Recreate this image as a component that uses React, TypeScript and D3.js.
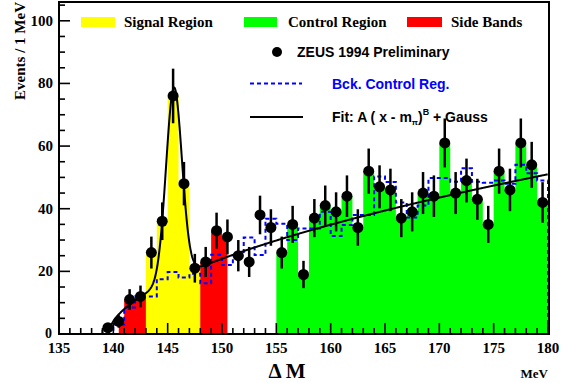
import React from "react";
import * as d3 from "d3";

const WIDTH = 565;
const HEIGHT = 383;

// Delta M spectrum, 1 MeV bins; first bin starts at 139 MeV
const binStart = 139;
const counts = [
  2, 4, 11, 12, 26, 36, 76, 48, 21, 23, 33, 31, 25, 23, 38, 34, 26, 35, 19, 37, 41,
  39, 44, 34, 52, 47, 46, 37, 39, 45, 44, 61, 45, 49, 43, 35, 52, 46, 61, 54, 42,
];

// Background from the control region, same binning
const bckStart = 139;
const bckControl = [
  1, 3, 8.5, 12, 12, 17.5, 19.8, 18, 19.2, 16.2, 25.3, 22, 25, 30.8, 25.2, 36.8, 35.2,
  30, 33.7, 33.7, 39, 31.3, 34.8, 38, 38, 50.3, 48.5, 42, 37.2, 41, 49.8, 49.8, 48.6,
  52.9, 48.6, 48.3, 49, 48, 54, 51.3, 49,
];

// Shaded mass windows (MeV)
const regionNames = ["Side Bands", "Signal Region", "Side Bands", "Control Region"];
const regionFrom = [140.5, 143, 148, 155];
const regionTo = [143, 148, 150.5, 180];
const regionColors = ["#ff0000", "#ffff00", "#ff0000", "#00ff00"];

// Fit: A (x - m_pi)^B + Gauss
const fitA = 6.52;
const fitB = 0.556;
const mPi = 139.57;
const gaussAmp = 61;
const gaussMean = 145.58;
const gaussSigma = 0.73;

const xTickLabels = ["135", "140", "145", "150", "155", "160", "165", "170", "175", "180"];
const yTickLabels = ["0", "20", "40", "60", "80", "100"];

const SERIF = "'Liberation Serif', 'Times New Roman', serif";
const SANS = "'Liberation Sans', Arial, Helvetica, sans-serif";

function fitFn(x: number) {
  const bg = x > mPi ? fitA * Math.pow(x - mPi, fitB) : 0;
  const g = gaussAmp * Math.exp(-((x - gaussMean) ** 2) / (2 * gaussSigma ** 2));
  return bg + g;
}

export default function App() {
  const x = d3.scaleLinear().domain([135, 180]).range([59, 548]);
  const y = d3.scaleLinear().domain([0, 106]).range([334, 2]);

  // Filled region areas, clipped to each window
  const areaGen = d3
    .area<{ e: number; v: number }>()
    .x((d) => x(d.e))
    .y0(y(0))
    .y1((d) => y(d.v))
    .curve(d3.curveStepAfter);

  const regionPaths = regionFrom.map((from, ri) => {
    const to = regionTo[ri];
    const pts: { e: number; v: number }[] = [];
    counts.forEach((c, i) => {
      const lo = binStart + i;
      const hi = lo + 1;
      const a = Math.max(lo, from);
      const b = Math.min(hi, to);
      if (b > a) pts.push({ e: a, v: c });
    });
    if (pts.length) pts.push({ e: to, v: pts[pts.length - 1].v });
    return areaGen(pts) || "";
  });

  // Background step histogram
  const stepPts: [number, number][] = [[bckStart, 0]];
  bckControl.forEach((v, i) => stepPts.push([bckStart + i, v]));
  stepPts.push([bckStart + bckControl.length, bckControl[bckControl.length - 1]]);
  stepPts.push([bckStart + bckControl.length, 0]);
  const stepLine = d3
    .line<[number, number]>()
    .x((d) => x(d[0]))
    .y((d) => y(d[1]))
    .curve(d3.curveStepAfter)(stepPts);

  // Fit curve
  const fitPts: [number, number][] = [];
  for (let xv = mPi; xv <= 180.0001; xv += 0.04) fitPts.push([xv, fitFn(xv)]);
  const fitLine = d3
    .line<[number, number]>()
    .x((d) => x(d[0]))
    .y((d) => y(d[1]))
    .curve(d3.curveLinear)(fitPts);

  const xMinor = d3.range(135, 181, 1);
  const yMinor = d3.range(0, 106, 5);

  return (
    <svg
      width={WIDTH}
      height={HEIGHT}
      style={{ position: "absolute", left: 0, top: 0, background: "#fff" }}
    >
      <rect x={0} y={0} width={WIDTH} height={HEIGHT} fill="#fff" />

      {regionPaths.map((d, i) => (
        <path key={"r" + i} d={d} fill={regionColors[i]} stroke="none" />
      ))}

      <path
        d={stepLine || ""}
        fill="none"
        stroke="#0000ff"
        strokeWidth={2}
        strokeDasharray="4,3"
      />

      {/* axis ticks */}
      {xMinor.map((v) => {
        const major = v % 5 === 0;
        return (
          <line
            key={"xt" + v}
            x1={x(v)}
            x2={x(v)}
            y1={y(0)}
            y2={y(0) - (major ? 11 : 6)}
            stroke="#000"
            strokeWidth={1.6}
          />
        );
      })}
      {yMinor.map((v) => {
        const major = v % 20 === 0;
        return (
          <line
            key={"yt" + v}
            x1={x(135)}
            x2={x(135) + (major ? 11 : 6)}
            y1={y(v)}
            y2={y(v)}
            stroke="#000"
            strokeWidth={1.6}
          />
        );
      })}

      <path d={fitLine || ""} fill="none" stroke="#000" strokeWidth={2} />

      {/* data with sqrt(N) errors */}
      {counts.map((c, i) => {
        const cx = x(binStart + i + 0.5);
        const err = Math.sqrt(c);
        return (
          <g key={"p" + i}>
            <line
              x1={cx}
              x2={cx}
              y1={y(c + err)}
              y2={y(Math.max(0, c - err))}
              stroke="#000"
              strokeWidth={2.5}
            />
            <circle cx={cx} cy={y(c)} r={5.5} fill="#000" />
          </g>
        );
      })}

      {/* frame */}
      <rect
        x={x(135)}
        y={y(106)}
        width={x(180) + 1 - x(135)}
        height={y(0) - y(106)}
        fill="none"
        stroke="#000"
        strokeWidth={2}
      />

      {/* tick labels */}
      {xTickLabels.map((t) => (
        <text
          key={"xl" + t}
          x={x(+t)}
          y={353}
          textAnchor="middle"
          fontFamily={SERIF}
          fontWeight="bold"
          fontSize={15}
        >
          {t}
        </text>
      ))}
      {yTickLabels.map((t) => (
        <text
          key={"yl" + t}
          x={t === "0" ? 52 : 53}
          y={y(+t) + (t === "0" ? 4 : 5)}
          textAnchor="end"
          fontFamily={SERIF}
          fontWeight="bold"
          fontSize={t === "0" ? 14 : 15}
        >
          {t}
        </text>
      ))}

      {/* axis titles */}
      <text
        transform="translate(25,2) rotate(-90)"
        textAnchor="end"
        fontFamily={SERIF}
        fontWeight="bold"
        fontSize={15}
      >
        Events / 1 MeV
      </text>
      <text x={287} y={378} textAnchor="middle" fontFamily={SERIF} fontWeight="bold" fontSize={21}>
        Δ M
      </text>
      <text x={548} y={378} textAnchor="end" fontFamily={SERIF} fontWeight="bold" fontSize={13}>
        MeV
      </text>

      {/* legend, first row: shaded windows */}
      <rect x={81} y={17} width={34} height={10} fill={regionColors[1]} />
      <text x={124} y={27} fontFamily={SERIF} fontWeight="bold" fontSize={15}>
        {regionNames[1]}
      </text>
      <rect x={244} y={17} width={33} height={10} fill={regionColors[3]} />
      <text x={288} y={27} fontFamily={SERIF} fontWeight="bold" fontSize={15}>
        {regionNames[3]}
      </text>
      <rect x={407} y={17} width={35} height={10} fill={regionColors[0]} />
      <text x={451} y={27} fontFamily={SERIF} fontWeight="bold" fontSize={15}>
        {regionNames[0]}
      </text>

      {/* legend, data / background / fit */}
      <circle cx={277} cy={52} r={5} fill="#000" />
      <text x={297} y={57} fontFamily={SANS} fontWeight="bold" fontSize={14}>
        ZEUS 1994 Preliminary
      </text>
      <line
        x1={250}
        x2={302}
        y1={83.5}
        y2={83.5}
        stroke="#0000ff"
        strokeWidth={2}
        strokeDasharray="4,3"
      />
      <text x={332} y={89} fill="#0000ff" fontFamily={SANS} fontWeight="bold" fontSize={14}>
        Bck. Control Reg.
      </text>
      <line x1={250} x2={303} y1={117} y2={117} stroke="#000" strokeWidth={2} />
      <text x={332} y={122} fontFamily={SANS} fontWeight="bold" fontSize={14}>
        Fit: A ( x - m
        <tspan fontSize={8} dy={3}>π</tspan>
        <tspan dy={-3}>)</tspan>
        <tspan fontSize={9} dy={-7}>B</tspan>
        <tspan dy={7}> + Gauss</tspan>
      </text>
    </svg>
  );
}
